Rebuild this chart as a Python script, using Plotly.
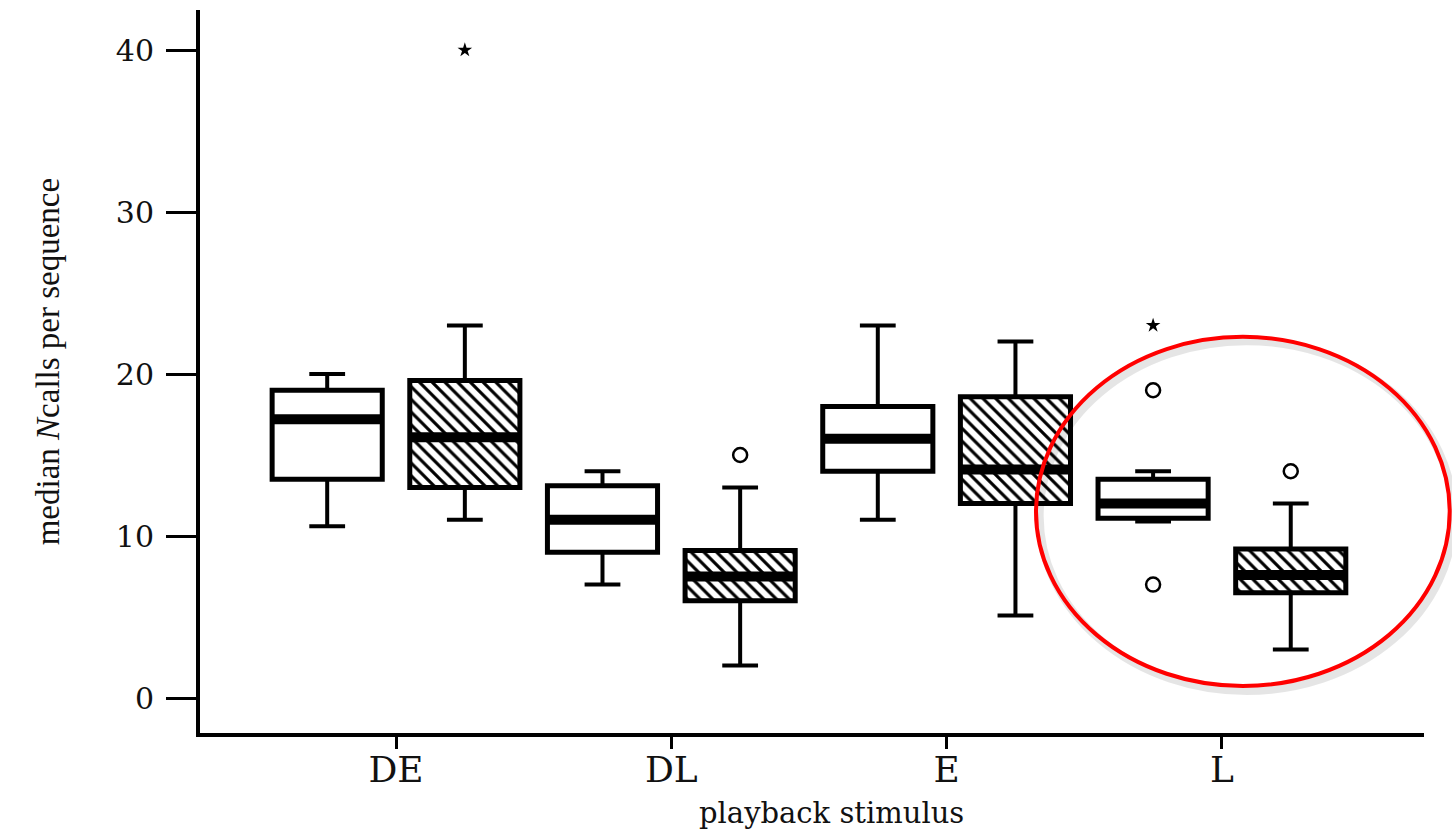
import plotly.graph_objects as go

# Playback stimuli on the x axis
stimuli = ["DE", "DL", "E", "L"]

# Open (white) boxes: whisker ends, quartiles and median per stimulus
open_low = [10.6, 7.0, 11.0, 10.9]
open_q1 = [13.5, 9.0, 14.0, 11.1]
open_med = [17.2, 11.0, 16.0, 12.0]
open_q3 = [19.0, 13.1, 18.0, 13.5]
open_high = [20.0, 14.0, 23.0, 14.0]

# Hatched boxes: whisker ends, quartiles and median per stimulus
hatch_low = [11.0, 2.0, 5.1, 3.0]
hatch_q1 = [13.0, 6.0, 12.0, 6.5]
hatch_med = [16.1, 7.5, 14.1, 7.6]
hatch_q3 = [19.6, 9.1, 18.6, 9.2]
hatch_high = [23.0, 13.0, 22.0, 12.0]

# Outliers (o) and extreme values (*)
open_out_stim = ["L", "L"]
open_out_val = [19.0, 7.0]
open_ext_stim = ["L"]
open_ext_val = [23.0]
hatch_out_stim = ["DL", "L"]
hatch_out_val = [15.0, 14.0]
hatch_ext_stim = ["DE"]
hatch_ext_val = [40.0]

y_ticks = [0, 10, 20, 30, 40]

BOX_W = 0.4
CAP = 0.065
OFFSET = 0.25
SERIF = "DejaVu Serif"

fig = go.Figure()


def add_group(shift, low, q1, med, q3, high, hatched):
    centres = [i + shift for i in range(len(stimuli))]
    # whiskers with caps
    wx, wy = [], []
    for c, lo, a, b, hi in zip(centres, low, q1, q3, high):
        wx += [c, c, None, c - CAP, c + CAP, None, c, c, None, c - CAP, c + CAP, None]
        wy += [b, hi, None, hi, hi, None, a, lo, None, lo, lo, None]
    fig.add_trace(go.Scatter(x=wx, y=wy, mode="lines",
                             line=dict(color="black", width=4),
                             hoverinfo="skip", showlegend=False))
    # boxes
    marker = dict(color="white", line=dict(color="black", width=5))
    if hatched:
        marker["pattern"] = dict(shape="\\", fgcolor="black", bgcolor="white",
                                 size=9, solidity=0.35, fillmode="replace")
    fig.add_trace(go.Bar(x=centres, y=[b - a for a, b in zip(q1, q3)], base=q1,
                         width=BOX_W, marker=marker, showlegend=False))
    # medians
    mx, my = [], []
    for c, m in zip(centres, med):
        mx += [c - BOX_W / 2, c + BOX_W / 2, None]
        my += [m, m, None]
    fig.add_trace(go.Scatter(x=mx, y=my, mode="lines",
                             line=dict(color="black", width=10),
                             hoverinfo="skip", showlegend=False))


def add_points(shift, stims, vals, symbol, size, lw):
    xs = [stimuli.index(s) + shift for s in stims]
    fig.add_trace(go.Scatter(x=xs, y=vals, mode="markers",
                             marker=dict(symbol=symbol, size=size, color="black",
                                         line=dict(color="#222", width=lw)),
                             hoverinfo="skip", showlegend=False))


add_group(-OFFSET, open_low, open_q1, open_med, open_q3, open_high, False)
add_group(OFFSET, hatch_low, hatch_q1, hatch_med, hatch_q3, hatch_high, True)
add_points(-OFFSET, open_out_stim, open_out_val, "circle-open", 14, 2.5)
add_points(OFFSET, hatch_out_stim, hatch_out_val, "circle-open", 14, 2.5)
add_points(-OFFSET, open_ext_stim, open_ext_val, "star", 11, 0)
add_points(OFFSET, hatch_ext_stim, hatch_ext_val, "star", 11, 0)

fig.update_layout(
    width=1452, height=832,
    margin=dict(l=200, r=28, t=10, b=99),
    plot_bgcolor="white", paper_bgcolor="white",
    barmode="overlay",
    showlegend=False,
    xaxis=dict(range=[-0.712, 3.734], tickvals=list(range(len(stimuli))),
               ticktext=stimuli, showgrid=False, zeroline=False,
               showline=True, linecolor="black", linewidth=4,
               ticks="outside", ticklen=12, tickwidth=3, tickcolor="black",
               ticklabelstandoff=-10,
               tickfont=dict(family=SERIF, size=36, color="#111")),
    yaxis=dict(range=[-2.16, 42.47], tickvals=y_ticks, showgrid=False,
               zeroline=False, showline=True, linecolor="black", linewidth=4,
               ticks="outside", ticklen=30, tickwidth=3, tickcolor="black",
               ticklabelstandoff=6,
               tickfont=dict(family=SERIF, size=30, color="#111")),
    annotations=[
        dict(text="median <i>N</i>calls per sequence", xref="paper", yref="paper",
             x=-0.124, y=0.513, textangle=-90, showarrow=False,
             xanchor="center", yanchor="middle",
             font=dict(family="Liberation Serif", size=33, color="#111")),
        dict(text="playback stimulus", xref="paper", yref="paper",
             x=0.516, y=-0.1107, showarrow=False, xanchor="center", yanchor="middle",
             font=dict(family=SERIF, size=29, color="#111")),
    ],
    shapes=[
        # soft shadow under the highlight ring
        dict(type="circle", xref="paper", yref="paper",
             x0=0.686, x1=1.024, y0=0.058, y1=0.542,
             line=dict(color="rgba(0,0,0,0.10)", width=8)),
        dict(type="circle", xref="paper", yref="paper",
             x0=0.683, x1=1.021, y0=0.065, y1=0.548,
             line=dict(color="#ff0000", width=4)),
    ],
)

fig.write_html("out.html")
